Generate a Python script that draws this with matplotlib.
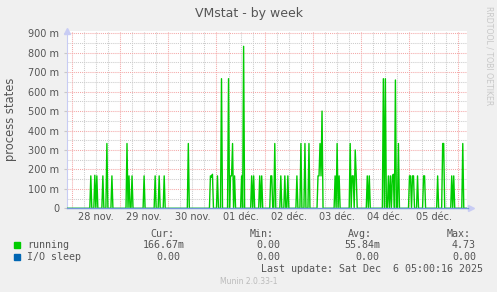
#!/usr/bin/env python3

##
# plot.py
#
# Munin style "VMstat - by week" graph redrawn with matplotlib.
##
import matplotlib
matplotlib.use('Agg')
import matplotlib.pyplot as plt
from matplotlib.patches import Rectangle
import numpy as np


# Hours since 28 nov. 00:00 and the value of each non-zero sample (30 min steps)
SPIKE_HOURS = [9.5, 11.5, 12.5, 15.5, 17.5, 20.0, 27.5, 28.5, 30.0, 36.0,
               41.5, 43.5, 46.0, 58.0, 69.0, 69.5, 70.0, 72.5, 74.5, 78.0,
               79.0, 79.5, 80.0, 81.0, 84.5, 85.5, 89.5, 90.5, 93.5, 94.5,
               99.0, 99.5, 101.0, 104.0, 106.0, 107.5, 112.0, 114.0, 116.0, 118.0,
               122.5, 123.0, 123.5, 124.0, 124.5, 131.0, 132.0, 133.0, 138.5, 139.5,
               140.0, 141.0, 141.5, 147.0, 148.0, 155.0, 156.0, 157.5, 158.5, 159.5,
               160.0, 161.0, 162.5, 168.0, 168.5, 169.5, 170.0, 172.0, 175.0, 175.5,
               182.0, 184.5, 185.0, 189.0, 190.0, 194.5]
SPIKE_VALUES = [0.1667, 0.17, 0.1667, 0.1667, 0.3333, 0.1667, 0.3333, 0.1667, 0.1667, 0.1667,
                0.1667, 0.1667, 0.1667, 0.3333, 0.1667, 0.16, 0.175, 0.1667, 0.6667, 0.6667,
                0.1667, 0.1667, 0.3333, 0.1667, 0.1667, 0.8333, 0.1667, 0.1667, 0.1667, 0.1667,
                0.1667, 0.1667, 0.3333, 0.1667, 0.1667, 0.1667, 0.1667, 0.3333, 0.3333, 0.3333,
                0.1667, 0.1667, 0.3333, 0.1667, 0.5, 0.1667, 0.3333, 0.1667, 0.3333, 0.1667,
                0.1667, 0.3, 0.17, 0.1667, 0.1667, 0.6667, 0.6667, 0.1667, 0.1667, 0.1667,
                0.175, 0.66, 0.3333, 0.1667, 0.1667, 0.1667, 0.1667, 0.1667, 0.1667, 0.1667,
                0.1667, 0.3333, 0.3333, 0.1667, 0.1667, 0.3333]

DAY_LABELS = ['28 nov.', '29 nov.', '30 nov.', '01 déc.', '02 déc.', '03 déc.', '04 déc.', '05 déc.']
Y_TICKS = [0, 0.1, 0.2, 0.3, 0.4, 0.5, 0.6, 0.7, 0.8, 0.9]
Y_LABELS = ['0', '100 m', '200 m', '300 m', '400 m', '500 m', '600 m', '700 m', '800 m', '900 m']

LEGEND_HEADERS = ['Cur:', 'Min:', 'Avg:', 'Max:']
RUNNING_STATS = ['166.67m', '0.00', '55.84m', '4.73']
IOSLEEP_STATS = ['0.00', '0.00', '0.00', '0.00']
LAST_UPDATE = 'Last update: Sat Dec  6 05:00:16 2025'

W, H = 497, 292
TEXT = '#555555'


def px(x, y):
    # Pixel coordinates (from top left) to figure fraction
    return x / W, 1 - y / H


def main():
    # Build the 30 min series, zero everywhere except the spikes
    hours = np.arange(-2.5, 197.5, 0.5)
    running = np.zeros(len(hours))
    for h, v in zip(SPIKE_HOURS, SPIKE_VALUES):
        running[np.argmin(np.abs(hours - h))] = v
    iosleep = np.zeros(len(hours))

    fig = plt.figure(figsize=(W / 100, H / 100), dpi=100)
    fig.patch.set_facecolor('#F0F0F0')

    # Plot area: 400 x 177 px
    top, bottom = 31.4, 208.3
    ax = fig.add_axes([67 / W, 1 - bottom / H, 400 / W, (bottom - top) / H])
    ax.set_facecolor('white')
    ax.set_xlim(-2.34, 196.6)
    ax.set_ylim(0, (bottom - top) / 194.4)

    # Grid, minor first then major
    dot = (0, (1, 1))
    for h in np.arange(-18, 200, 6):
        if h % 24:
            ax.axvline(h, color='#CCCCCC', lw=0.75, ls=dot, zorder=1)
    for v in np.arange(0.05, 0.91, 0.1):
        ax.axhline(v, color='#CCCCCC', lw=0.75, ls=dot, zorder=1)
    for h in range(0, 200, 24):
        ax.axvline(h, color='#F4A8A8', lw=0.75, ls=dot, zorder=2)
    for v in Y_TICKS[1:]:
        ax.axhline(v, color='#F4A8A8', lw=0.75, ls=dot, zorder=2)

    # Data
    ax.plot(hours, running, color='#00CC00', lw=1.0, zorder=5)
    ax.plot(hours, iosleep, color='#7396DA', lw=1.0, zorder=6, clip_on=False)

    # Axes
    for side in ['top', 'right']:
        ax.spines[side].set_visible(False)
    ax.spines['left'].set_color('#C8CCF4')
    ax.spines['bottom'].set_color('#C8CCF4')
    ax.spines['left'].set_linewidth(0.8)
    ax.spines['bottom'].set_linewidth(0.8)
    ax.plot([0], [1], marker='^', color='#C8CCF4', ms=4, transform=ax.transAxes, clip_on=False)
    ax.plot([1.01], [0], marker='>', color='#C8CCF4', ms=4, transform=ax.transAxes, clip_on=False)

    ax.set_yticks(Y_TICKS)
    ax.set_yticklabels(Y_LABELS)
    ax.set_xticks([12 + 24 * i for i in range(len(DAY_LABELS))])
    ax.set_xticklabels(DAY_LABELS)
    ax.tick_params(axis='y', length=2.5, color='#C8C8C8', pad=3, labelsize=7, labelcolor=TEXT)
    ax.tick_params(axis='x', length=0, pad=3, labelsize=7, labelcolor=TEXT)

    # Titles
    fig.text(*px(249, 13.5), 'VMstat - by week', ha='center', va='center', fontsize=9, color=TEXT)
    fig.text(*px(11, 119), 'process states', ha='center', va='center', rotation=90,
             fontsize=8.3, color=TEXT)
    fig.text(*px(488.5, 6), 'RRDTOOL / TOBI OETIKER', ha='center', va='top', rotation=270,
             fontsize=5.6, color='#C8C8C8')

    # Legend
    mono = dict(family='DejaVu Sans Mono', fontsize=7.2, color=TEXT, va='center', ha='left')
    for x, t in zip([150, 250, 348, 447], LEGEND_HEADERS):
        fig.text(*px(x, 234), t, **mono)
    fig.patches.append(Rectangle(px(14, 247.5), 5.5 / W, 5.5 / H, color='#00CC00',
                                 transform=fig.transFigure))
    fig.patches.append(Rectangle(px(14, 259.5), 5.5 / W, 5.5 / H, color='#0066B3',
                                 transform=fig.transFigure))
    fig.text(*px(27, 245.5), 'running', **mono)
    fig.text(*px(27, 257.5), 'I/O sleep', **mono)
    for x, t in zip([143, 256, 344, 452], RUNNING_STATS):
        fig.text(*px(x, 245.5), t, **mono)
    for x, t in zip([156, 256, 355, 452], IOSLEEP_STATS):
        fig.text(*px(x, 257.5), t, **mono)
    fig.text(*px(261, 269.5), LAST_UPDATE, **mono)
    fig.text(*px(249, 282), 'Munin 2.0.33-1', ha='center', va='center', fontsize=5.5,
             color='#BBBBBB')

    plt.savefig('out.png', dpi=100, facecolor=fig.get_facecolor())
    plt.close()


if __name__ == '__main__':
    main()
